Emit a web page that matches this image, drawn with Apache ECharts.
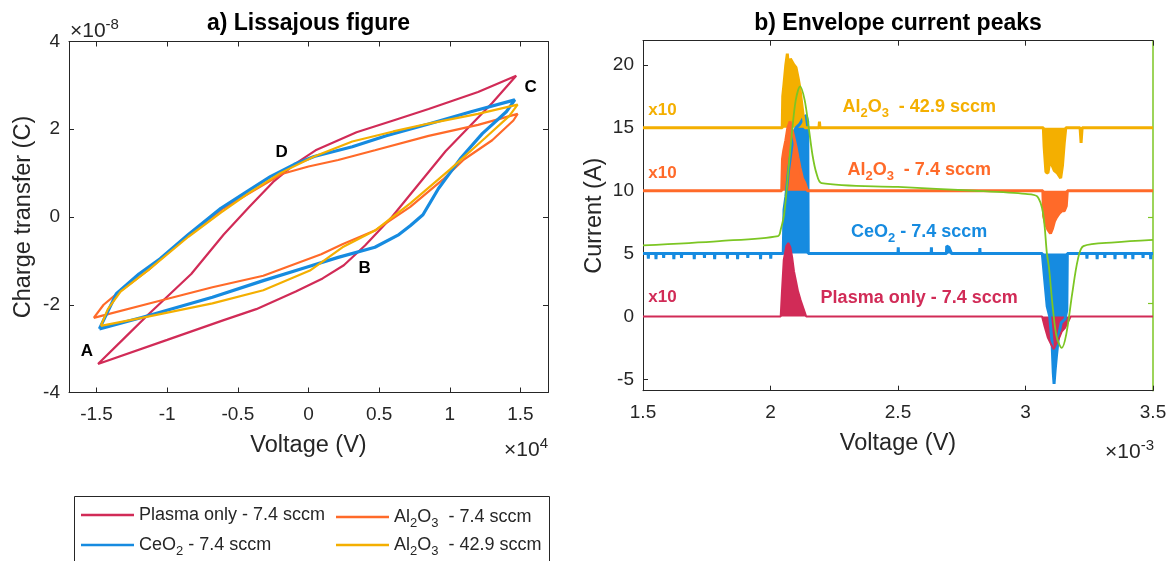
<!DOCTYPE html>
<html><head><meta charset="utf-8">
<script src="https://cdn.jsdelivr.net/npm/echarts@6/dist/echarts.min.js"></script>
<style>html,body{margin:0;padding:0;background:#fff}#c{width:1170px;height:561px}</style>
</head><body><div id="c"></div>
<script>
// ---------- data ----------
const NAME_PLASMA = 'Plasma only - 7.4 sccm';
const NAME_AL74 = 'Al2O3  - 7.4 sccm';
const NAME_CEO2 = 'CeO2 - 7.4 sccm';
const NAME_AL429 = 'Al2O3  - 42.9 sccm';

// a) Lissajous loops: [voltage (x1e4 V), charge (x1e-8 C)]
const loopPlasma = [[-1.49,-3.35],[-1.30,-2.75],[-1.13,-2.21],[-0.83,-1.30],[-0.60,-0.40],[-0.42,0.23],[-0.25,0.80],[-0.10,1.20],[0.05,1.52],[0.34,1.93],[0.60,2.20],[0.85,2.46],[1.20,2.85],[1.47,3.22],[1.30,2.60],[0.97,1.50],[0.59,0.0],[0.40,-0.65],[0.25,-1.10],[0.10,-1.40],[-0.09,-1.70],[-0.37,-2.10],[-0.60,-2.35],[-1.00,-2.80],[-1.49,-3.35]];
const loopAl74 = [[-1.52,-2.30],[-1.45,-2.00],[-1.36,-1.76],[-1.13,-1.20],[-0.85,-0.40],[-0.60,0.20],[-0.42,0.54],[-0.19,0.98],[0.0,1.15],[0.21,1.30],[0.47,1.52],[0.85,1.85],[1.20,2.10],[1.48,2.35],[1.45,2.20],[1.30,1.75],[1.10,1.31],[0.95,0.85],[0.72,0.23],[0.47,-0.31],[0.24,-0.62],[0.09,-0.85],[-0.32,-1.34],[-0.68,-1.60],[-1.10,-1.95],[-1.52,-2.30]];
const loopCeO2 = [[-1.48,-2.55],[-1.42,-2.15],[-1.36,-1.75],[-1.20,-1.30],[-1.05,-0.95],[-0.85,-0.40],[-0.62,0.20],[-0.45,0.55],[-0.27,0.92],[-0.10,1.20],[0.04,1.38],[0.31,1.60],[0.55,1.85],[0.85,2.12],[1.15,2.40],[1.46,2.67],[1.40,2.40],[1.23,1.90],[1.08,1.35],[1.00,1.00],[0.92,0.65],[0.81,0.05],[0.72,-0.20],[0.64,-0.40],[0.47,-0.69],[0.21,-0.92],[-0.02,-1.15],[-0.32,-1.45],[-0.68,-1.83],[-1.18,-2.29],[-1.48,-2.55]];
const loopAl429 = [[-1.47,-2.48],[-1.42,-2.10],[-1.33,-1.70],[-1.13,-1.20],[-0.85,-0.45],[-0.62,0.10],[-0.42,0.55],[-0.20,1.00],[0.04,1.38],[0.31,1.72],[0.60,1.95],[0.85,2.13],[1.20,2.35],[1.48,2.56],[1.42,2.30],[1.25,1.80],[1.00,1.08],[0.72,0.31],[0.47,-0.31],[0.24,-0.69],[0.01,-1.22],[-0.32,-1.67],[-0.68,-1.97],[-1.18,-2.30],[-1.47,-2.48]];

// b) Envelope current peaks: [time (x1e-3), current (A, offset)]
const basePlasma = 0, baseAl74 = 10, baseCeO2 = 5, baseAl429 = 15;
const envPlasma = [[1.5,0],[2.040,0],[2.045,2.0],[2.052,4.5],[2.062,5.6],[2.070,5.85],[2.078,5.5],[2.085,4.7],[2.092,3.6],[2.100,2.8],[2.108,2.0],[2.118,1.3],[2.130,0.6],[2.140,0],[3.065,0],[3.075,-0.8],[3.088,-1.7],[3.100,-2.2],[3.111,-2.6],[3.120,-2.2],[3.130,-1.8],[3.142,-1.2],[3.155,-0.9],[3.170,-0.3],[3.177,0],[3.5,0]];
const envCeO2 = [[1.5,5],[1.52,5],[1.521,4.6],[1.522,5],[1.55,5],[1.551,4.55],[1.552,5],[1.58,5],[1.581,4.65],[1.582,5],[1.62,5],[1.621,4.55],[1.622,5],[1.65,5],[1.651,4.65],[1.652,5],[1.70,5],[1.701,4.55],[1.702,5],[1.74,5],[1.741,4.65],[1.742,5],[1.78,5],[1.781,4.55],[1.782,5],[1.83,5],[1.831,4.6],[1.832,5],[1.87,5],[1.871,4.55],[1.872,5],[1.91,5],[1.911,4.65],[1.912,5],[1.96,5],[1.961,4.55],[1.962,5],[2.00,5],[2.001,4.6],[2.002,5],
  [2.050,5],[2.053,8.5],[2.060,9.5],[2.070,11.5],[2.080,13.0],[2.090,14.6],[2.100,15.0],[2.115,15.3],[2.130,15.8],[2.140,16.0],[2.146,15.5],[2.148,5],
  [2.50,5],[2.501,5.5],[2.502,5],[2.63,5],[2.631,5.5],[2.632,5],[2.69,5],[2.691,5.6],[2.70,5.5],[2.71,5],[2.82,5],[2.821,5.45],[2.822,5],
  [3.066,5],[3.075,3.0],[3.085,0.8],[3.095,0.0],[3.104,-2.0],[3.109,-4.5],[3.112,-5.35],[3.116,-4.3],[3.122,-3.0],[3.130,-1.5],[3.140,-0.5],[3.155,-0.2],[3.162,0.5],[3.164,5],
  [3.24,5],[3.241,4.6],[3.242,5],[3.28,5],[3.281,4.55],[3.282,5],[3.31,5],[3.311,4.65],[3.312,5],[3.35,5],[3.351,4.55],[3.352,5],[3.39,5],[3.391,4.6],[3.392,5],[3.42,5],[3.421,4.55],[3.422,5],[3.46,5],[3.461,4.65],[3.462,5],[3.49,5],[3.491,4.55],[3.492,5],[3.5,5]];
const envAl74 = [[1.5,10],[2.044,10],[2.047,12.5],[2.052,13.2],[2.060,14.0],[2.068,15.0],[2.077,15.5],[2.085,14.8],[2.092,14.2],[2.100,13.5],[2.108,12.6],[2.116,11.8],[2.125,11.0],[2.135,10.6],[2.145,10],[3.068,10],[3.071,8.0],[3.078,7.4],[3.088,6.9],[3.098,6.6],[3.106,7.0],[3.114,7.6],[3.122,7.9],[3.132,8.2],[3.142,8.4],[3.152,8.4],[3.160,8.8],[3.164,10],[3.5,10]];
const envAl429 = [[1.5,15],[2.046,15],[2.048,17.5],[2.053,18.5],[2.060,20.0],[2.066,20.9],[2.072,19.5],[2.078,20.5],[2.085,20.6],[2.092,20.0],[2.100,19.8],[2.108,19.0],[2.115,18.2],[2.122,17.0],[2.128,16.0],[2.135,15],[2.19,15],[2.192,15.5],[2.194,15],[3.070,15],[3.073,13.5],[3.080,11.5],[3.088,11.4],[3.095,12.3],[3.105,12.0],[3.113,11.6],[3.125,11.4],[3.138,11.0],[3.145,12.0],[3.152,13.8],[3.158,15],[3.214,15],[3.218,13.8],[3.222,15],[3.5,15]];
const voltageTrace = [[1.5,5.65],[1.8,6.0],[2.03,6.4],[2.04,6.9],[2.054,8.2],[2.069,11.4],[2.084,14.6],[2.099,17.2],[2.116,18.3],[2.134,17.2],[2.15,15.0],[2.165,12.8],[2.18,11.4],[2.20,10.6],[2.5,10.3],[2.8,10.0],[3.0,9.75],[3.046,9.55],[3.069,8.2],[3.084,5.0],[3.092,3.9],[3.107,0.7],[3.122,-1.6],[3.142,-2.5],[3.16,-1.4],[3.183,1.8],[3.205,4.5],[3.227,5.6],[3.35,5.9],[3.5,6.1]];

// ticks
const xTicksA = [-1.5,-1,-0.5,0,0.5,1,1.5];
const yTicksA = [-4,-2,0,2,4];
const xTicksB = [1.5,2,2.5,3,3.5];
const yTicksB = [-5,0,5,10,15,20];
const greenTicksB = [1.04,7.9];

// annotations (data coordinates)
const pointLetters = [['A',-1.569,-3.05],['B',0.397,-1.18],['C',1.572,2.96],['D',-0.19,1.47]];
const gainLabels = [['x10',1.521,16.4,'al429'],['x10',1.521,11.4,'al74'],['x10',1.521,1.55,'plasma']];
const traceLabels = [[NAME_AL429,2.583,16.65,'al429'],[NAME_AL74,2.583,11.65,'al74'],[NAME_CEO2,2.583,6.7,'ceo2'],[NAME_PLASMA,2.583,1.46,'plasma']];

// ---------- styling ----------
const COL = {plasma:'#D12B57', al74:'#FF6A29', ceo2:'#168BE0', al429:'#F4AF00', green:'#7CC623'};
const FONT = '"Liberation Sans", Arial, Helvetica, sans-serif';
const AX = '#262626';

function toRich(str, n, s){
  let out = '', buf = '';
  for (let i=0;i<str.length;i++){
    const ch = str[i];
    if (/\d/.test(ch) && i>0 && /[A-Za-z]/.test(str[i-1])) {
      if (buf) { out += '{'+n+'|'+buf+'}'; buf=''; }
      out += '{'+s+'|'+ch+'}';
    } else buf += ch;
  }
  if (buf) out += '{'+n+'|'+buf+'}';
  return out;
}

function baseAxis(extra){
  return Object.assign({
    type:'value',
    axisLine:{show:true,onZero:false,lineStyle:{color:AX,width:1}},
    axisTick:{show:true,inside:true,length:5,lineStyle:{color:AX,width:1}},
    splitLine:{show:false},
    axisLabel:{show:false}
  }, extra);
}
const labelStyle = {show:true,color:AX,fontSize:19,fontFamily:FONT,showMinLabel:true,showMaxLabel:true};
const nameStyle = {color:AX,fontSize:23.5,fontFamily:FONT};

const chart = echarts.init(document.getElementById('c'), null, {renderer:'canvas'});

function loopSeries(name, data, color, w){
  return {type:'line', name, data, xAxisIndex:0, yAxisIndex:0, showSymbol:false, symbol:'none',
    lineStyle:{color, width:w}, itemStyle:{color}, animation:false};
}
function envSeries(name, data, color, base, w){
  return {type:'line', name, data, xAxisIndex:2, yAxisIndex:2, showSymbol:false, symbol:'none',
    lineStyle:{color, width:w}, itemStyle:{color}, areaStyle:{color, opacity:1, origin:base}, animation:false};
}

const legendRich = {
  n:{fontSize:18, lineHeight:22, fontFamily:FONT, color:AX},
  s:{fontSize:13, lineHeight:13, fontFamily:FONT, color:AX, padding:[12,0,0,0]}
};
function legendItem(name, left, top){
  return {data:[name], left, top, padding:0, icon:'rect', itemWidth:53, itemHeight:2.5,
    formatter:(nm)=>toRich(nm,'n','s'), textStyle:{rich:legendRich, fontFamily:FONT, fontSize:18, color:AX},
    selectedMode:false};
}

const option = {
  animation:false,
  textStyle:{fontFamily:FONT},
  grid:[{left:69, top:41.5, width:479, height:351}, {left:643, top:40.7, width:510, height:350}],
  xAxis:[
    baseAxis({gridIndex:0, min:-1.695, max:1.695, axisTick:{show:true,inside:true,length:5,lineStyle:{color:AX},customValues:xTicksA},
      axisLabel:Object.assign({}, labelStyle, {customValues:xTicksA, margin:13}),
      name:'Voltage (V)', nameLocation:'middle', nameGap:41, nameTextStyle:nameStyle}),
    baseAxis({gridIndex:0, position:'top', min:-1.695, max:1.695, axisTick:{show:true,inside:true,length:5,lineStyle:{color:AX},customValues:xTicksA}}),
    baseAxis({gridIndex:1, min:1.5, max:3.5, interval:0.5, axisLabel:Object.assign({}, labelStyle, {margin:13}),
      name:'Voltage (V)', nameLocation:'middle', nameGap:41, nameTextStyle:nameStyle}),
    baseAxis({gridIndex:1, position:'top', min:1.5, max:3.5, interval:0.5})
  ],
  yAxis:[
    baseAxis({gridIndex:0, min:-4, max:4, interval:2, axisLabel:Object.assign({}, labelStyle, {margin:9}),
      name:'Charge transfer (C)', nameLocation:'middle', nameGap:33, nameTextStyle:nameStyle}),
    baseAxis({gridIndex:0, position:'right', min:-4, max:4, interval:2}),
    baseAxis({gridIndex:1, min:-5.9, max:21.93, axisTick:{show:true,inside:true,length:5,lineStyle:{color:AX},customValues:yTicksB},
      axisLabel:Object.assign({}, labelStyle, {customValues:yTicksB, margin:9}),
      name:'Current (A)', nameLocation:'middle', nameGap:36, nameTextStyle:nameStyle}),
    baseAxis({gridIndex:1, position:'right', min:-5.9, max:21.93,
      axisLine:{show:true,onZero:false,lineStyle:{color:COL.green,width:1.5}},
      axisTick:{show:true,inside:true,length:5,lineStyle:{color:COL.green,width:1.2},customValues:greenTicksB}})
  ],
  legend:[
    legendItem(NAME_PLASMA, 81, 506),
    legendItem(NAME_AL74, 336, 504.5),
    legendItem(NAME_CEO2, 81, 532.5),
    legendItem(NAME_AL429, 336, 532.5)
  ],
  series:[
    loopSeries(NAME_PLASMA, loopPlasma, COL.plasma, 2.2),
    loopSeries(NAME_AL74, loopAl74, COL.al74, 2.2),
    loopSeries(NAME_CEO2, loopCeO2, COL.ceo2, 3.2),
    loopSeries(NAME_AL429, loopAl429, COL.al429, 2.2),
    envSeries(NAME_CEO2, envCeO2, COL.ceo2, baseCeO2, 3),
    envSeries(NAME_AL429, envAl429, COL.al429, baseAl429, 3),
    envSeries(NAME_AL74, envAl74, COL.al74, baseAl74, 3),
    envSeries(NAME_PLASMA, envPlasma, COL.plasma, basePlasma, 2),
    {type:'line', name:'voltage', data:voltageTrace, xAxisIndex:2, yAxisIndex:3, showSymbol:false, symbol:'none',
      lineStyle:{color:COL.green, width:1.8}, itemStyle:{color:COL.green}, smooth:0.3, animation:false}
  ]
};
chart.setOption(option);

// ---------- text annotations positioned through the axes ----------
const g = [];
const titleStyle = {fontSize:23, fontWeight:'bold', fontFamily:FONT, fill:'#000', align:'center', verticalAlign:'middle', textAlign:'center', textVerticalAlign:'middle'};
g.push({type:'text', x:308.5, y:24, style:Object.assign({text:'a) Lissajous figure'}, titleStyle)});
g.push({type:'text', x:898, y:24, style:Object.assign({text:'b) Envelope current peaks'}, titleStyle)});
const expRich = {b:{fontSize:21, fontFamily:FONT, fill:AX, color:AX}, sup:{fontSize:15, fontFamily:FONT, fill:AX, color:AX, padding:[0,0,12,0]}};
g.push({type:'text', x:70, y:31, style:{text:'{b|×10}{sup|-8}', rich:expRich, align:'left', verticalAlign:'middle', textAlign:'left', textVerticalAlign:'middle'}});
g.push({type:'text', x:548, y:450, style:{text:'{b|×10}{sup|4}', rich:expRich, align:'right', verticalAlign:'middle', textAlign:'right', textVerticalAlign:'middle'}});
g.push({type:'text', x:1154, y:452, style:{text:'{b|×10}{sup|-3}', rich:expRich, align:'right', verticalAlign:'middle', textAlign:'right', textVerticalAlign:'middle'}});
g.push({type:'rect', z:0, shape:{x:74.5, y:496.5, width:475, height:80}, style:{fill:'none', stroke:AX, lineWidth:1}});
pointLetters.forEach(([t,x,y])=>{
  const p = chart.convertToPixel({seriesIndex:0}, [x,y]);
  g.push({type:'text', x:p[0], y:p[1], style:{text:t, fontSize:17, fontWeight:'bold', fontFamily:FONT, fill:'#000', align:'center', verticalAlign:'middle', textAlign:'center', textVerticalAlign:'middle'}});
});
gainLabels.forEach(([t,x,y,k])=>{
  const p = chart.convertToPixel({seriesIndex:7}, [x,y]);
  g.push({type:'text', x:p[0], y:p[1], z:10, style:{text:t, fontSize:17, fontWeight:'bold', fontFamily:FONT, fill:COL[k], align:'left', verticalAlign:'middle', textAlign:'left', textVerticalAlign:'middle'}});
});
traceLabels.forEach(([t,x,y,k])=>{
  const p = chart.convertToPixel({seriesIndex:7}, [x,y]);
  const rich = {n:{fontSize:18, fontWeight:'bold', fontFamily:FONT, fill:COL[k], color:COL[k], lineHeight:22},
                s:{fontSize:13, fontWeight:'bold', fontFamily:FONT, fill:COL[k], color:COL[k], lineHeight:13, padding:[12,0,0,0]}};
  g.push({type:'text', x:p[0], y:p[1], z:10, style:{text:toRich(t,'n','s'), rich, align:'center', verticalAlign:'middle', textAlign:'center', textVerticalAlign:'middle'}});
});
chart.setOption({graphic:{elements:g}});
</script></body></html>
